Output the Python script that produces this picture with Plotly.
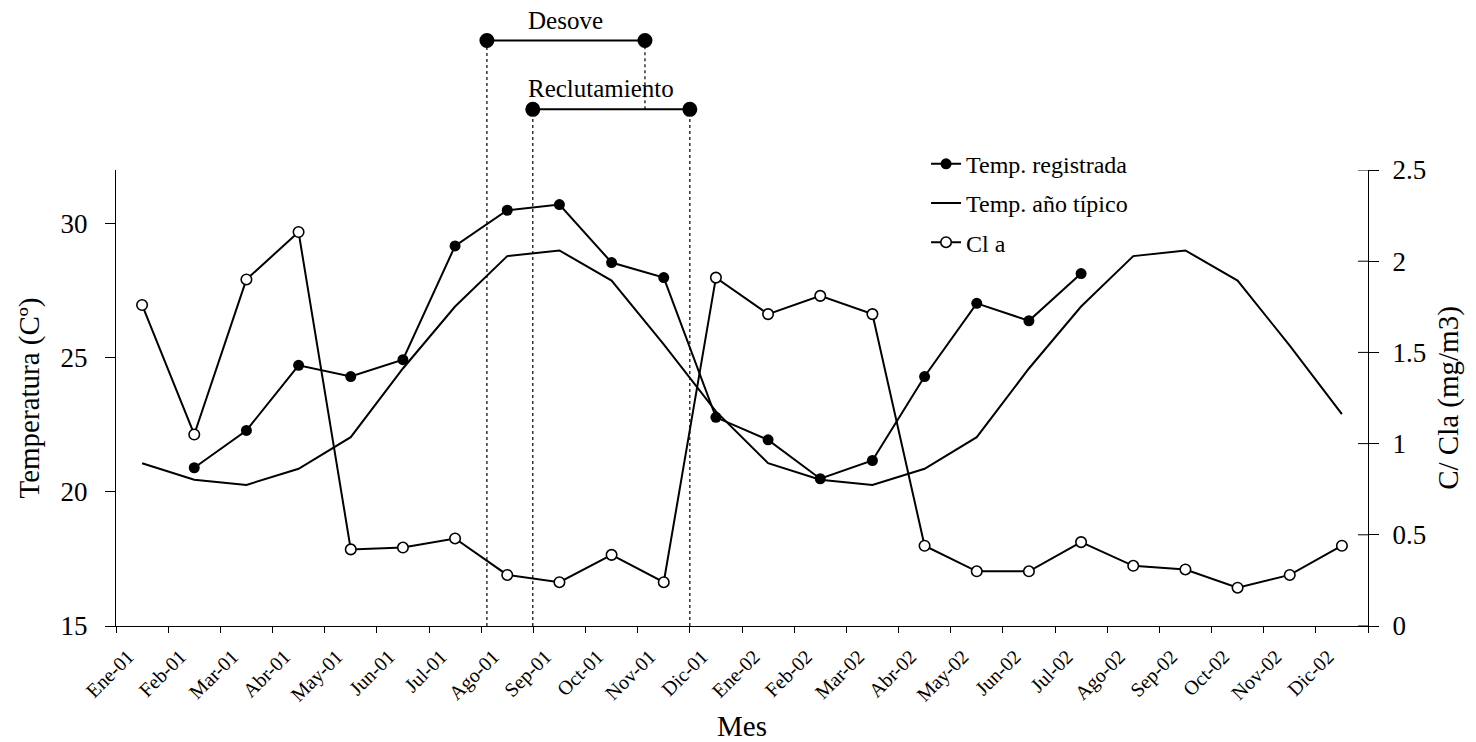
import plotly.graph_objects as go

# ---------------- data ----------------
meses = ["Ene-01", "Feb-01", "Mar-01", "Abr-01", "May-01", "Jun-01",
         "Jul-01", "Ago-01", "Sep-01", "Oct-01", "Nov-01", "Dic-01",
         "Ene-02", "Feb-02", "Mar-02", "Abr-02", "May-02", "Jun-02",
         "Jul-02", "Ago-02", "Sep-02", "Oct-02", "Nov-02", "Dic-02"]

temp_registrada = [None, 20.90, 22.29, 24.72, 24.30, 24.93,
                   29.17, 30.50, 30.71, 28.55, 27.99, 22.78,
                   21.94, 20.49, 21.17, 24.30, 27.03, 26.38,
                   28.14, None, None, None, None, None]

temp_tipico = [21.07, 20.45, 20.26, 20.86, 22.04, 24.60,
               26.91, 28.79, 29.00, 27.88, 25.50, 23.00,
               21.07, 20.45, 20.26, 20.86, 22.04, 24.60,
               26.91, 28.79, 29.00, 27.88, 25.45, 22.90]

cl_a = [1.76, 1.05, 1.90, 2.16, 0.42, 0.43,
        0.48, 0.28, 0.24, 0.39, 0.24, 1.91,
        1.71, 1.81, 1.71, 0.44, 0.30, 0.30,
        0.46, 0.33, 0.31, 0.21, 0.28, 0.44]

# periods, in months counted from the start of Ene-01
desove = [7.11, 10.14]
reclutamiento = [7.99, 11.0]

temp_ticks = [15, 20, 25, 30]
cl_ticks = [0, 0.5, 1, 1.5, 2, 2.5]

# ---------------- figure ----------------
FONT = "Liberation Serif"
fig = go.Figure()

fig.add_trace(go.Scatter(
    x=meses, y=temp_registrada, name="Temp. registrada",
    mode="lines+markers", legendgroup="a",
    line=dict(color="black", width=2),
    marker=dict(symbol="circle", size=11, color="black"),
    yaxis="y"))

fig.add_trace(go.Scatter(
    x=meses, y=temp_tipico, name="Temp. año típico",
    mode="lines", legendgroup="b",
    line=dict(color="black", width=2),
    yaxis="y"))

fig.add_trace(go.Scatter(
    x=meses, y=cl_a, name="Cl a",
    mode="lines+markers", legendgroup="c",
    line=dict(color="black", width=2),
    marker=dict(symbol="circle", size=10.5, color="white",
                line=dict(color="black", width=1.6)),
    yaxis="y2"))

# period bars above the plot
Y_DES = 1.284
Y_REC = 1.133
to_cat = lambda m: m - 0.5

shapes = []
dot = dict(color="black", width=1.2, dash="dot")
shapes.append(dict(type="line", xref="x", yref="paper", x0=to_cat(desove[0]), x1=to_cat(desove[0]),
                   y0=0, y1=Y_DES, line=dot, layer="below"))
shapes.append(dict(type="line", xref="x", yref="paper", x0=to_cat(desove[1]), x1=to_cat(desove[1]),
                   y0=Y_REC, y1=Y_DES, line=dot, layer="below"))
for m in reclutamiento:
    shapes.append(dict(type="line", xref="x", yref="paper", x0=to_cat(m), x1=to_cat(m),
                       y0=0, y1=Y_REC, line=dot, layer="below"))
R = 7.5
for (a, b), yy in ((desove, Y_DES), (reclutamiento, Y_REC)):
    shapes.append(dict(type="line", xref="x", yref="paper",
                       x0=to_cat(a), x1=to_cat(b), y0=yy, y1=yy,
                       line=dict(color="black", width=2)))
    for m in (a, b):
        shapes.append(dict(type="circle", xref="x", yref="paper",
                           xsizemode="pixel", ysizemode="pixel",
                           xanchor=to_cat(m), yanchor=yy,
                           x0=-R, x1=R, y0=-R, y1=R,
                           fillcolor="black", line=dict(color="black", width=0)))

# right axis ticks cross the axis line: inner half
for v in cl_ticks:
    shapes.append(dict(type="line", xref="paper", yref="y2",
                       x0=1, x1=1 - 10 / 1252, y0=v, y1=v,
                       line=dict(color="black", width=1)))

annotations = [
    dict(text="Desove", xref="x", yref="paper",
         x=to_cat((desove[0] + desove[1]) / 2), y=Y_DES, yanchor="bottom", yshift=4,
         showarrow=False, font=dict(family=FONT, size=25, color="black")),
    dict(text="Reclutamiento", xref="x", yref="paper",
         x=to_cat((reclutamiento[0] + reclutamiento[1]) / 2), y=Y_REC, yanchor="bottom", yshift=5,
         xshift=-10, showarrow=False, font=dict(family=FONT, size=25, color="black")),
]

fig.update_layout(
    width=1476, height=742,
    margin=dict(l=116, r=108, t=170, b=116),
    paper_bgcolor="white", plot_bgcolor="white",
    font=dict(family=FONT, color="black"),
    showlegend=True,
    legend=dict(x=0.647, y=1.062, xanchor="left", yanchor="top",
                traceorder="grouped", tracegroupgap=5,
                font=dict(family=FONT, size=24, color="black"),
                bgcolor="rgba(0,0,0,0)"),
    xaxis=dict(type="category", range=[-0.5, 23.5], tickson="boundaries",
               ticks="outside", ticklen=6, tickcolor="black",
               showline=True, linecolor="black", linewidth=1,
               showgrid=False, zeroline=False, tickangle=-45,
               tickfont=dict(family=FONT, size=20, color="black"),
               ticklabelshift=-14, ticklabelstandoff=10,
               title=dict(text="Mes", font=dict(family=FONT, size=29, color="black"), standoff=20),
               automargin=False),
    yaxis=dict(range=[15, 32], tickvals=temp_ticks, ticks="outside", ticklen=10,
               tickcolor="black", showline=True, linecolor="black", linewidth=1,
               showgrid=False, zeroline=False,
               tickfont=dict(family=FONT, size=27, color="black"),
               ticklabelstandoff=12,
               title=dict(text="Temperatura (Cº)", font=dict(family=FONT, size=29, color="black"),
                          standoff=12),
               automargin=False),
    yaxis2=dict(range=[0, 2.5], tickvals=cl_ticks, overlaying="y", side="right",
                ticks="outside", ticklen=10, tickcolor="black",
                showline=True, linecolor="black", linewidth=1,
                showgrid=False, zeroline=False,
                tickfont=dict(family=FONT, size=27, color="black"),
                ticklabelstandoff=8,
                title=dict(text="C/ Cla (mg/m3)", font=dict(family=FONT, size=29, color="black"),
                           standoff=12),
                automargin=False),
    shapes=shapes,
    annotations=annotations,
)

fig.write_html("out.html")
